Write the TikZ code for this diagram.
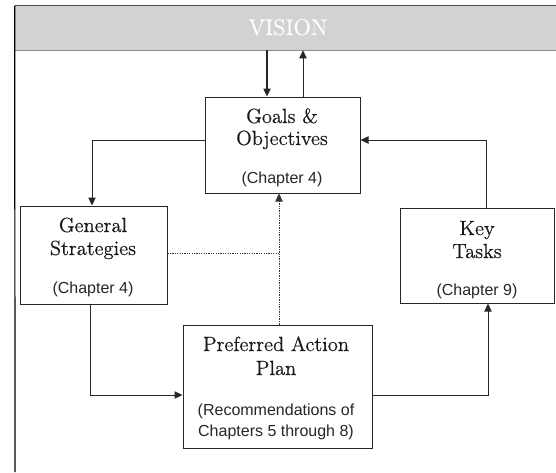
\documentclass[tikz,border=0pt]{standalone}
\usepackage{fontspec}
\newfontfamily\chapfont{Liberation Sans}
\newfontfamily\titlefont{lmroman12-regular}[Extension=.otf, FakeBold=0.5]
\usetikzlibrary{arrows.meta,fit}
\begin{document}
\begin{tikzpicture}[x=0.75pt,y=-0.75pt,
  box/.style={draw=black!85, line width=0.75pt, inner sep=0pt},
  title/.style={anchor=base, inner sep=0pt, text=black!90, font=\titlefont\fontsize{15.4}{18}\selectfont},
  chap/.style={anchor=base, inner sep=0pt, text=black!85, font=\chapfont\fontsize{12}{14}\selectfont},
  conn/.style={line width=0.75pt, draw=black!85},
  arr/.style={conn, -{Triangle[length=6pt,width=5.5pt]}},
  dots/.style={line width=0.7pt, draw=black!80, dash pattern=on 1pt off 0.8pt}]
\useasboundingbox (0,0) rectangle (556,472);
% vision band
\node[fill=gray!35, draw=none, inner sep=0pt, fit={(15,6) (556,50)}] (vision) {};
\draw[line width=1pt, black!70] (vision.north west) -- (vision.north east);
\draw[line width=0.6pt, black!45] (vision.south west) -- (vision.south east);
\node[anchor=base, inner sep=0pt, text=white, font=\titlefont\fontsize{17}{17}\selectfont] (vt) at (288,35) {VISION};
% frame
\draw[line width=0.9pt] (vision.north west) -- (15,472);
% boxes
\node[box, fit={(205,97) (360,193)}] (g) {};
\node[box, fit={(20,206) (167,304)}] (s) {};
\node[box, fit={(400,208) (554,303)}] (k) {};
\node[box, fit={(183,325) (372,448)}] (p) {};
% texts
\node[title] (g1) at (282,123) {Goals \&};
\node[title] (g2) at (282,145) {Objectives};
\node[chap] (g3) at (282,183) {(Chapter 4)};
\node[title] (s1) at (93,232) {General};
\node[title] (s2) at (93,255) {Strategies};
\node[chap] (s3) at (93,293) {(Chapter 4)};
\node[title] (k1) at (477,235) {Key};
\node[title] (k2) at (477,258) {Tasks};
\node[chap] (k3) at (477,295) {(Chapter 9)};
\node[title] (p1) at (276,351) {Preferred Action};
\node[title] (p2) at (276,375) {Plan};
\node[chap] (p3) at (276,415) {(Recommendations of};
\node[chap] (p4) at (276,436) {Chapters 5 through 8)};
% helper coordinates
\coordinate (xa) at (267,0);
\coordinate (xb) at (303,0);
\coordinate (xc) at (92,0);
\coordinate (xd) at (486,0);
\coordinate (xe) at (90,0);
\coordinate (xf) at (488,0);
\coordinate (xg) at (279,0);
\coordinate (ya) at (0,140);
\coordinate (yb) at (0,395);
\coordinate (yc) at (0,253);
% connectors
\draw[arr, line width=1pt] (xa |- vision.south) -- (xa |- g.north);
\draw[arr] (xb |- g.north) -- (xb |- vision.south);
\draw[arr] (ya -| g.west) -| (xc |- s.north);
\draw[arr] (xd |- k.north) |- (ya -| g.east);
\draw[arr] (xe |- s.south) |- (yb -| p.west);
\draw[arr] (yb -| p.east) -| (xf |- k.south);
\draw[dots] (yc -| s.east) -- (yc -| xg);
\draw[dots, -{Triangle[length=6pt,width=5.5pt]}] (xg |- p.north) -- (xg |- g.south);
\end{tikzpicture}
\end{document}
